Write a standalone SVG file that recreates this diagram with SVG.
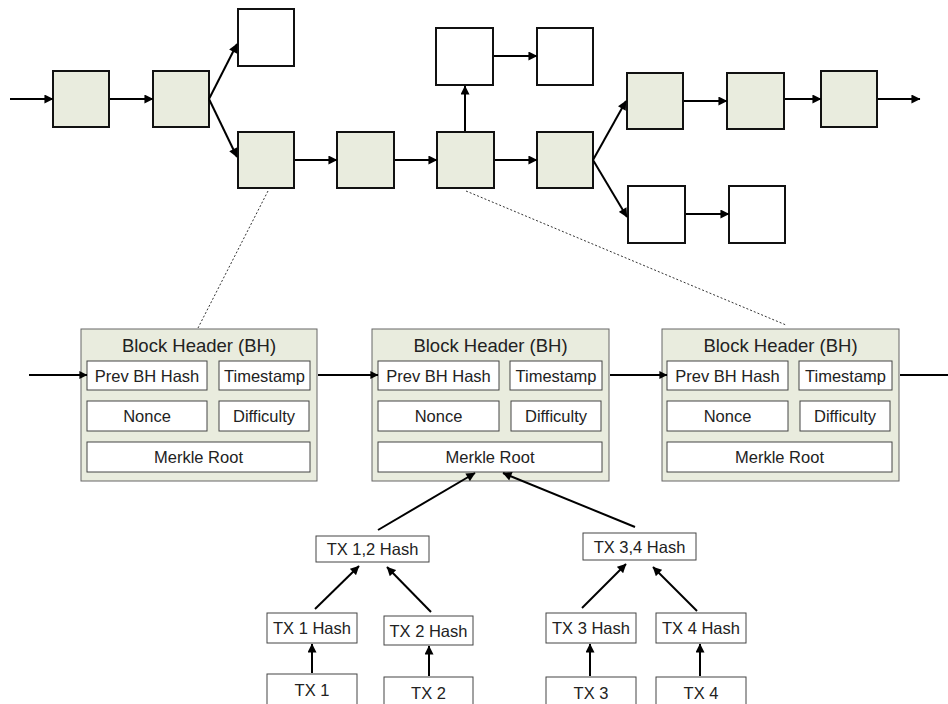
<svg xmlns="http://www.w3.org/2000/svg" width="948" height="704" viewBox="0 0 948 704">
  <defs>
    <style>
      .blk { fill: #e9ecde; stroke: #111; stroke-width: 2; }
      .orph { fill: #fff; stroke: #111; stroke-width: 2; }
      .hdr { fill: #e9ecde; stroke: #666; stroke-width: 1; }
      .fld { fill: #fff; stroke: #444; stroke-width: 1; }
      .tx { fill: #fff; stroke: #444; stroke-width: 1; }
      .ln { stroke: #000; stroke-width: 2; fill: none; }
      .dot { stroke: #333; stroke-width: 1; stroke-dasharray: 2 2; fill: none; }
      text { font-family: "Liberation Sans", Arial, sans-serif; fill: #222; text-anchor: middle; }
      .title { font-size: 18.5px; }
      .lbl { font-size: 16.5px; }
    </style>
    <marker id="ah" viewBox="0 0 10 10" refX="9.5" refY="5" markerWidth="10" markerHeight="9" orient="auto" markerUnits="userSpaceOnUse">
      <path d="M0,0 L10,5 L0,10 z" fill="#000"/>
    </marker>
    <marker id="ahs" viewBox="0 0 10 10" refX="9.5" refY="5" markerWidth="9" markerHeight="8" orient="auto" markerUnits="userSpaceOnUse">
      <path d="M0,0 L10,5 L0,10 z" fill="#000"/>
    </marker>
  </defs>
  <rect width="948" height="704" fill="#fff"/>

  <!-- chain blocks -->
  <g id="b1"><rect class="blk" x="53" y="71" width="56" height="56"/></g>
  <g id="b2"><rect class="blk" x="153" y="71" width="56" height="56"/></g>
  <g id="b3-orphan"><rect class="orph" x="238" y="9" width="56" height="57"/></g>
  <g id="b3"><rect class="blk" x="238" y="132" width="56" height="56"/></g>
  <g id="b4"><rect class="blk" x="337" y="132" width="57" height="56"/></g>
  <g id="b5"><rect class="blk" x="437" y="132" width="57" height="56"/></g>
  <g id="b6-orphan"><rect class="orph" x="436" y="28" width="57" height="57"/></g>
  <g id="b7-orphan"><rect class="orph" x="537" y="28" width="56" height="57"/></g>
  <g id="b6"><rect class="blk" x="537" y="132" width="56" height="56"/></g>
  <g id="b7"><rect class="blk" x="627" y="73" width="56" height="56"/></g>
  <g id="b8"><rect class="blk" x="727" y="73" width="57" height="56"/></g>
  <g id="b9"><rect class="blk" x="821" y="71" width="56" height="56"/></g>
  <g id="b7-fork"><rect class="orph" x="628" y="186" width="57" height="57"/></g>
  <g id="b8-fork"><rect class="orph" x="729" y="186" width="56" height="57"/></g>

  <!-- block headers -->
  <g id="header1">
    <rect class="hdr" x="81" y="329" width="236" height="152"/>
    <text class="title" x="199" y="352">Block Header (BH)</text>
    <rect class="fld" x="87" y="361" width="120" height="29"/>
    <text class="lbl" x="147" y="381.5">Prev BH Hash</text>
    <rect class="fld" x="219" y="361" width="91" height="29"/>
    <text class="lbl" x="264.5" y="381.5">Timestamp</text>
    <rect class="fld" x="87" y="401" width="120" height="30"/>
    <text class="lbl" x="147" y="422">Nonce</text>
    <rect class="fld" x="219" y="401" width="90" height="30"/>
    <text class="lbl" x="264" y="422">Difficulty</text>
    <rect class="fld" x="87" y="442" width="223" height="30"/>
    <text class="lbl" x="198.5" y="463">Merkle Root</text>
  </g>
  <g id="header2">
    <rect class="hdr" x="372" y="329" width="237" height="152"/>
    <text class="title" x="490.5" y="352">Block Header (BH)</text>
    <rect class="fld" x="378" y="361" width="121" height="29"/>
    <text class="lbl" x="438.5" y="381.5">Prev BH Hash</text>
    <rect class="fld" x="510" y="361" width="92" height="29"/>
    <text class="lbl" x="556" y="381.5">Timestamp</text>
    <rect class="fld" x="378" y="401" width="121" height="30"/>
    <text class="lbl" x="438.5" y="422">Nonce</text>
    <rect class="fld" x="511" y="401" width="90" height="30"/>
    <text class="lbl" x="556" y="422">Difficulty</text>
    <rect class="fld" x="378" y="442" width="224" height="30"/>
    <text class="lbl" x="490" y="463">Merkle Root</text>
  </g>
  <g id="header3">
    <rect class="hdr" x="662" y="329" width="237" height="152"/>
    <text class="title" x="780.5" y="352">Block Header (BH)</text>
    <rect class="fld" x="667" y="361" width="121" height="29"/>
    <text class="lbl" x="727.5" y="381.5">Prev BH Hash</text>
    <rect class="fld" x="799" y="361" width="93" height="29"/>
    <text class="lbl" x="845.5" y="381.5">Timestamp</text>
    <rect class="fld" x="667" y="401" width="121" height="30"/>
    <text class="lbl" x="727.5" y="422">Nonce</text>
    <rect class="fld" x="800" y="401" width="90" height="30"/>
    <text class="lbl" x="845" y="422">Difficulty</text>
    <rect class="fld" x="667" y="442" width="225" height="30"/>
    <text class="lbl" x="779.5" y="463">Merkle Root</text>
  </g>

  <!-- merkle tree nodes -->
  <g id="tx12hash">
    <rect class="tx" x="316" y="536" width="113" height="26"/>
    <text class="lbl" x="372.5" y="555">TX 1,2 Hash</text>
  </g>
  <g id="tx34hash">
    <rect class="tx" x="583" y="533" width="113" height="27"/>
    <text class="lbl" x="639.5" y="552.5">TX 3,4 Hash</text>
  </g>
  <g id="tx1hash">
    <rect class="tx" x="267" y="613" width="90" height="30"/>
    <text class="lbl" x="312" y="634">TX 1 Hash</text>
  </g>
  <g id="tx2hash">
    <rect class="tx" x="384" y="616" width="89" height="29"/>
    <text class="lbl" x="428.5" y="636.5">TX 2 Hash</text>
  </g>
  <g id="tx3hash">
    <rect class="tx" x="546" y="613" width="90" height="30"/>
    <text class="lbl" x="591" y="634">TX 3 Hash</text>
  </g>
  <g id="tx4hash">
    <rect class="tx" x="656" y="613" width="90" height="30"/>
    <text class="lbl" x="701" y="634">TX 4 Hash</text>
  </g>
  <g id="tx1">
    <rect class="tx" x="267" y="674" width="90" height="40"/>
    <text class="lbl" x="312" y="696">TX 1</text>
  </g>
  <g id="tx2">
    <rect class="tx" x="384" y="677" width="89" height="40"/>
    <text class="lbl" x="428.5" y="699">TX 2</text>
  </g>
  <g id="tx3">
    <rect class="tx" x="546" y="677" width="90" height="40"/>
    <text class="lbl" x="591" y="699">TX 3</text>
  </g>
  <g id="tx4">
    <rect class="tx" x="656" y="677" width="90" height="40"/>
    <text class="lbl" x="701" y="699">TX 4</text>
  </g>

  <!-- connectors (drawn last so arrowheads sit on top of boxes) -->
  <g id="connectors">
    <!-- chain of blocks -->
    <line class="ln" x1="10" y1="99" x2="53" y2="99" marker-end="url(#ah)"/>
    <line class="ln" x1="110" y1="99" x2="153" y2="99" marker-end="url(#ah)"/>
    <line class="ln" x1="209" y1="99" x2="237" y2="44" marker-end="url(#ah)"/>
    <line class="ln" x1="209" y1="99" x2="237" y2="157" marker-end="url(#ah)"/>
    <line class="ln" x1="295" y1="160" x2="337" y2="160" marker-end="url(#ah)"/>
    <line class="ln" x1="395" y1="160" x2="437" y2="160" marker-end="url(#ah)"/>
    <line class="ln" x1="495" y1="160" x2="537" y2="160" marker-end="url(#ah)"/>
    <line class="ln" x1="465" y1="131" x2="465" y2="86" marker-end="url(#ah)"/>
    <line class="ln" x1="494" y1="56" x2="537" y2="56" marker-end="url(#ah)"/>
    <line class="ln" x1="593" y1="160" x2="626" y2="101" marker-end="url(#ah)"/>
    <line class="ln" x1="593" y1="160" x2="627" y2="217" marker-end="url(#ah)"/>
    <line class="ln" x1="684" y1="101" x2="727" y2="101" marker-end="url(#ah)"/>
    <line class="ln" x1="785" y1="99" x2="821" y2="99" marker-end="url(#ah)"/>
    <line class="ln" x1="878" y1="99" x2="920" y2="99" marker-end="url(#ah)"/>
    <line class="ln" x1="686" y1="214" x2="729" y2="214" marker-end="url(#ah)"/>

    <!-- zoom guides -->
    <line class="dot" x1="268" y1="191" x2="198" y2="328"/>
    <line class="dot" x1="466" y1="191" x2="786" y2="325"/>

    <!-- header links -->
    <line class="ln" x1="29" y1="375" x2="87" y2="375" marker-end="url(#ahs)"/>
    <line class="ln" x1="318" y1="375" x2="378" y2="375" marker-end="url(#ahs)"/>
    <line class="ln" x1="610" y1="375" x2="667" y2="375" marker-end="url(#ahs)"/>
    <line class="ln" x1="900" y1="375" x2="948" y2="375"/>

    <!-- merkle tree -->
    <line class="ln" x1="378" y1="530" x2="475" y2="473" marker-end="url(#ah)"/>
    <line class="ln" x1="635" y1="527" x2="503" y2="473" marker-end="url(#ah)"/>
    <line class="ln" x1="315" y1="609" x2="359" y2="566" marker-end="url(#ah)"/>
    <line class="ln" x1="431" y1="612" x2="387" y2="567" marker-end="url(#ah)"/>
    <line class="ln" x1="582" y1="608" x2="626" y2="564" marker-end="url(#ah)"/>
    <line class="ln" x1="697" y1="611" x2="653" y2="567" marker-end="url(#ah)"/>
    <line class="ln" x1="312" y1="673" x2="312" y2="644" marker-end="url(#ah)"/>
    <line class="ln" x1="429" y1="676" x2="429" y2="646" marker-end="url(#ah)"/>
    <line class="ln" x1="590" y1="676" x2="590" y2="644" marker-end="url(#ah)"/>
    <line class="ln" x1="700" y1="676" x2="700" y2="644" marker-end="url(#ah)"/>
  </g>
</svg>
